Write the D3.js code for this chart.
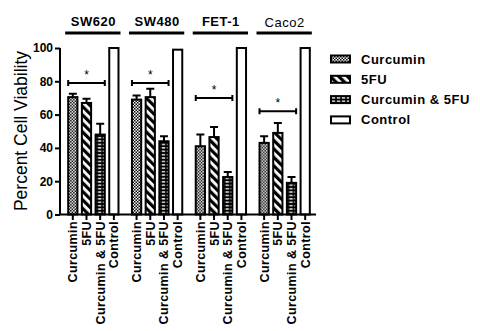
<!DOCTYPE html>
<html>
<head>
<meta charset="utf-8">
<script src="https://cdnjs.cloudflare.com/ajax/libs/d3/7.8.5/d3.min.js"></script>
<style>
  body { margin: 0; background: #fff; }
  svg { font-family: Arial, "Liberation Sans", sans-serif; }
</style>
</head>
<body>
<script>
// data
var cellLines = ["SW620", "SW480", "FET-1", "Caco2"];
var treatments = ["Curcumin", "5FU", "Curcumin & 5FU", "Control"];
var means = [
  [70.5, 67, 48, 100],
  [69, 70.5, 44, 99],
  [41, 46.5, 22.5, 100],
  [43, 49, 19, 100]
];
var errs = [
  [2, 2.5, 6.5, 0],
  [2.5, 5, 3, 0],
  [7, 6, 3, 0],
  [4, 6, 3.5, 0]
];
var sigLevels = [79, 79, 70, 62];
var yTicks = [0, 20, 40, 60, 80, 100];

var W = 480, H = 331;
var svg = d3.select("body").append("svg")
    .attr("width", W).attr("height", H);

// fill patterns
var defs = svg.append("defs");
var p1 = defs.append("pattern").attr("id", "pCur")
    .attr("patternUnits", "userSpaceOnUse").attr("width", 3).attr("height", 3);
p1.append("rect").attr("width", 3).attr("height", 3).attr("fill", "#fff");
p1.append("rect").attr("width", 1.5).attr("height", 1.5).attr("fill", "#000");
p1.append("rect").attr("x", 1.5).attr("y", 1.5).attr("width", 1.5).attr("height", 1.5).attr("fill", "#000");

var p2 = defs.append("pattern").attr("id", "pFU")
    .attr("patternUnits", "userSpaceOnUse").attr("width", 6).attr("height", 6)
    .attr("patternTransform", "rotate(-45)");
p2.append("rect").attr("width", 6).attr("height", 6).attr("fill", "#fff");
p2.append("rect").attr("width", 3.2).attr("height", 6).attr("fill", "#000");

var p3 = defs.append("pattern").attr("id", "pBoth")
    .attr("patternUnits", "userSpaceOnUse").attr("width", 5).attr("height", 3.4);
p3.append("rect").attr("width", 5).attr("height", 3.4).attr("fill", "#000");
p3.append("rect").attr("x", 0.8).attr("y", 1).attr("width", 3.4).attr("height", 1.3).attr("fill", "#fff");

var fills = ["url(#pCur)", "url(#pFU)", "url(#pBoth)", "#fff"];

// scales
var x0 = d3.scaleBand().domain(cellLines).range([64, 314])
    .paddingInner(0.18).paddingOuter(0.05);
var x1 = d3.scaleBand().domain(treatments).range([0, x0.bandwidth()])
    .paddingInner(0.18);
var y = d3.scaleLinear().domain([0, 100]).range([214.5, 48]);

// bars
var groups = svg.selectAll(".grp").data(cellLines).enter().append("g")
    .attr("class", "grp")
    .attr("transform", function(d) { return "translate(" + x0(d) + ",0)"; });

groups.each(function(line, gi) {
  var g = d3.select(this);
  var rows = treatments.map(function(t, ti) {
    return {t: t, v: means[gi][ti], e: errs[gi][ti], ti: ti};
  });
  // error whiskers (upper only)
  g.selectAll(".err").data(rows.filter(function(d) { return d.e > 0; }))
    .enter().append("path")
    .attr("fill", "none").attr("stroke", "#000").attr("stroke-width", 2)
    .attr("d", function(d) {
      var cx = x1(d.t) + x1.bandwidth() / 2;
      return "M" + cx + "," + y(d.v) + "V" + y(d.v + d.e) +
        "M" + (cx - 4) + "," + y(d.v + d.e) + "H" + (cx + 4);
    });
  g.selectAll(".bar").data(rows).enter().append("rect")
    .attr("x", function(d) { return x1(d.t) + 1; })
    .attr("y", function(d) { return y(d.v); })
    .attr("width", x1.bandwidth() - 2)
    .attr("height", function(d) { return y(0) - y(d.v); })
    .attr("fill", function(d) { return fills[d.ti]; })
    .attr("stroke", "#000").attr("stroke-width", 2);

  // significance bracket
  var sx0 = x1(treatments[0]) + 1;
  var sx1 = x1(treatments[2]) + x1.bandwidth() - 1;
  var sy = y(sigLevels[gi]);
  g.append("path").attr("fill", "none").attr("stroke", "#000").attr("stroke-width", 2)
    .attr("d", "M" + sx0 + "," + sy + "H" + sx1 +
      "M" + sx0 + "," + (sy - 3) + "V" + (sy + 3) +
      "M" + sx1 + "," + (sy - 3) + "V" + (sy + 3));
  g.append("text").attr("x", (sx0 + sx1) / 2).attr("y", sy - 4)
    .attr("text-anchor", "middle").attr("font-size", 12).text("*");

  // cell line header with underline
  g.append("text").attr("x", x0.bandwidth() / 2).attr("y", gi === 3 ? 27 : 26)
    .attr("text-anchor", "middle").attr("font-size", 13)
    .attr("font-weight", gi === 3 ? "normal" : "bold")
    .attr("letter-spacing", 0.5)
    .text(line);
  g.append("line").attr("x1", -2).attr("x2", x0.bandwidth() + 1)
    .attr("y1", 33).attr("y2", 33).attr("stroke", "#000").attr("stroke-width", 3);

  // x tick marks and rotated labels
  g.selectAll(".tk").data(treatments).enter().append("line")
    .attr("x1", function(d) { return x1(d) + x1.bandwidth() / 2; })
    .attr("x2", function(d) { return x1(d) + x1.bandwidth() / 2; })
    .attr("y1", 215).attr("y2", 220)
    .attr("stroke", "#000").attr("stroke-width", 2);
  g.selectAll(".tl").data(treatments).enter().append("text")
    .attr("transform", function(d) {
      return "translate(" + (x1(d) + x1.bandwidth() / 2 + 4.5) + ",221) rotate(-90)";
    })
    .attr("text-anchor", "end").attr("font-size", 12.5).attr("font-weight", "bold")
    .attr("letter-spacing", 0.4)
    .text(function(d) { return d; });
});

// y axis
var yAxis = svg.append("g").attr("transform", "translate(60,0)")
    .call(d3.axisLeft(y).tickValues(yTicks).tickSize(5).tickPadding(2));
yAxis.select(".domain").attr("stroke-width", 2).attr("d", "M0," + y(100) + "V" + y(0));
yAxis.selectAll(".tick line").attr("stroke-width", 2);
yAxis.selectAll(".tick text").attr("font-size", 12).attr("font-weight", "bold")
    .attr("font-family", "Arial, 'Liberation Sans', sans-serif").attr("fill", "#000");

// x axis baseline
svg.append("line").attr("x1", 59).attr("x2", 316).attr("y1", y(0)).attr("y2", y(0))
    .attr("stroke", "#000").attr("stroke-width", 2);

// y axis title
svg.append("text").attr("transform", "translate(27,131) rotate(-90)")
    .attr("text-anchor", "middle").attr("font-size", 17.5).text("Percent Cell Viability");

// legend
var leg = svg.selectAll(".leg").data(treatments).enter().append("g")
    .attr("transform", function(d, i) { return "translate(331," + (59 + i * 20.3) + ")"; });
leg.append("rect").attr("x", 0).attr("y", -3.5).attr("width", 19).attr("height", 7)
    .attr("fill", function(d, i) { return fills[i]; })
    .attr("stroke", "#000").attr("stroke-width", 2);
leg.append("text").attr("x", 30).attr("y", 4.5).attr("font-size", 13)
    .attr("font-weight", "bold").attr("letter-spacing", 0.5)
    .text(function(d) { return d; });
</script>
</body>
</html>
